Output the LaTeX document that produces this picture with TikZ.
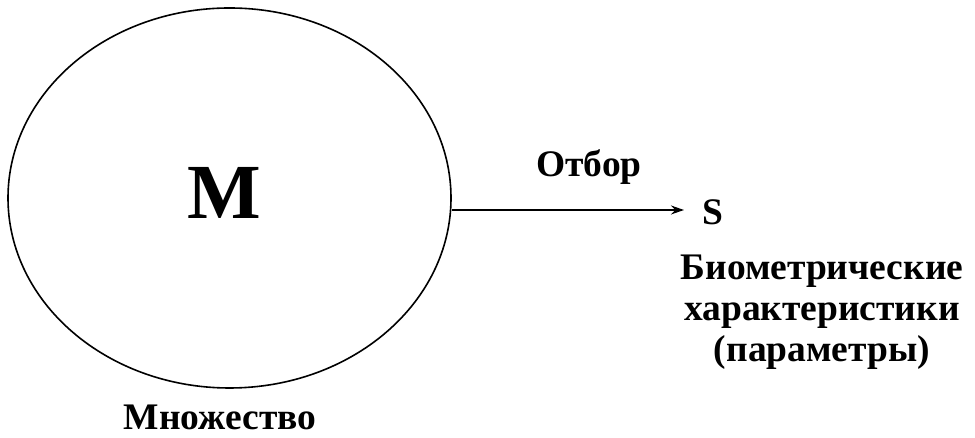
\documentclass[tikz,border=0pt]{standalone}
\usepackage{fontspec}
\setmainfont{Liberation Serif}
\usetikzlibrary{arrows.meta,shapes.geometric}
\begin{document}
\begin{tikzpicture}[x=1pt,y=1pt,
  lbl/.style={font=\bfseries\fontsize{37.5}{41}\selectfont, inner sep=0pt},
  flow/.style={line width=1.3pt, -{Stealth[length=13pt,width=9pt]}}]
\useasboundingbox (0,0) rectangle (975,438);
% the set M
\node[draw, line width=1.6pt, ellipse, minimum width=443, minimum height=380, inner sep=0pt] (set) at (229.5,240) {};
\node[font=\bfseries\fontsize{78}{86}\selectfont, inner sep=0pt] (M) at (224,245) {M};
\node[lbl, anchor=base] (setlbl) at (220,8) {Множество};
% selection
\coordinate (tip) at (684,228);
\draw[flow] (set.east |- tip) -- (tip);
\node[lbl, anchor=base] (sel) at (589,261) {Отбор};
\node[lbl, anchor=base] (S) at (713,213) {S};
\node[lbl, anchor=north, align=center] (bio) at (822,183) {Биометрические\\характеристики\\(параметры)};
\end{tikzpicture}
\end{document}
